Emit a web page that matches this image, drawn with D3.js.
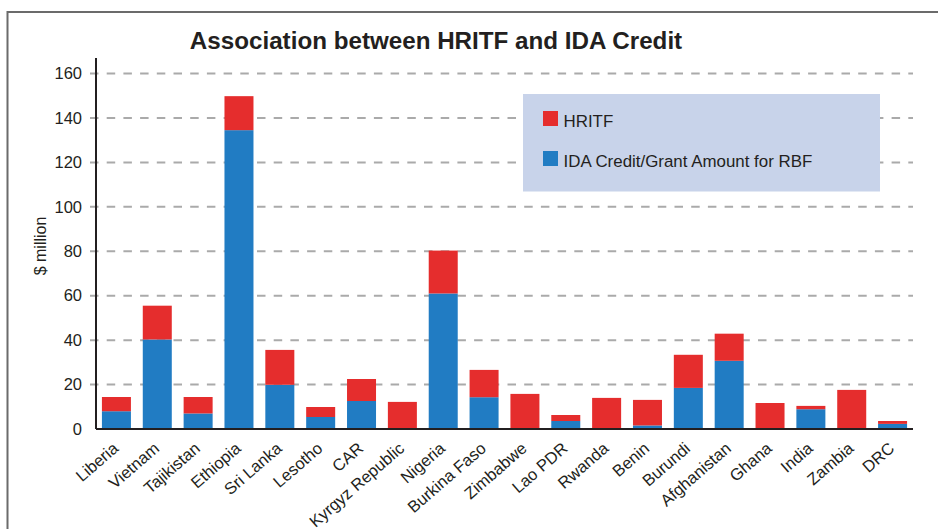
<!DOCTYPE html>
<html><head><meta charset="utf-8">
<script src="https://cdn.jsdelivr.net/npm/d3@7"></script>
<style>body{margin:0;background:#fff;}svg{display:block;font-family:"Liberation Sans",Arial,sans-serif;}</style>
</head><body>
<svg id="chart" width="938" height="529"></svg>
<script>
const categories = ["Liberia","Vietnam","Tajikistan","Ethiopia","Sri Lanka","Lesotho","CAR","Kyrgyz Republic","Nigeria","Burkina Faso","Zimbabwe","Lao PDR","Rwanda","Benin","Burundi","Afghanistan","Ghana","India","Zambia","DRC"];
const idaValues   = [8, 40.3, 7, 134.5, 19.9, 5.4, 12.6, 0, 61, 14.3, 0, 3.6, 0, 1.6, 18.5, 30.7, 0, 8.9, 0, 2.3];
const hritfValues = [6.4, 15.2, 7.4, 15.3, 15.7, 4.5, 9.9, 12.2, 19.3, 12.3, 15.8, 2.7, 14.0, 11.5, 14.9, 12.2, 11.7, 1.5, 17.6, 1.3];
const yTicks = [0,20,40,60,80,100,120,140,160];
const seriesNames = ["HRITF","IDA Credit/Grant Amount for RBF"];
const seriesColors = ["#e52d2d","#217cc3"];

const svg = d3.select("#chart");
const mLeft = 96, mRight = 913, mTop = 73.5, mBottom = 429;
const FS = 16.5;

// frame
svg.append("path").attr("d","M7.5,529 V12 H938").attr("fill","none").attr("stroke","#6b6b6b").attr("stroke-width",2);

const x = d3.scaleBand().domain(categories).range([mLeft,mRight]).paddingInner(0.29).paddingOuter(0.145);
const y = d3.scaleLinear().domain([0,160]).range([mBottom,mTop]);

// gridlines
svg.append("g").selectAll("line").data(yTicks.filter(d=>d>0)).join("line")
  .attr("x1",90).attr("x2",mRight).attr("y1",d=>y(d)).attr("y2",d=>y(d))
  .attr("stroke","#aaaaaa").attr("stroke-width",2).attr("stroke-dasharray","8.5,8.2");

// legend box
const lg = svg.append("g");
lg.append("rect").attr("x",523).attr("y",94).attr("width",357).attr("height",97.5).attr("fill","#c8d3ea");
seriesNames.forEach((n,i)=>{
  lg.append("rect").attr("x",543).attr("y",111+i*40).attr("width",15).attr("height",15).attr("fill",seriesColors[i]);
  lg.append("text").attr("x",563.5).attr("y",126.5+i*40).attr("font-size",16.9).attr("fill","#231f20").text(n);
});

// stacked bars
const data = categories.map((c,i)=>({cat:c, ida:idaValues[i], hritf:hritfValues[i]}));
const stack = d3.stack().keys(["ida","hritf"])(data);
const colorMap = {ida:seriesColors[1], hritf:seriesColors[0]};
svg.append("g").selectAll("g").data(stack).join("g").attr("fill",d=>colorMap[d.key])
  .selectAll("rect").data(d=>d).join("rect")
  .attr("x",d=>x(d.data.cat)).attr("width",x.bandwidth())
  .attr("y",d=>y(d[1])).attr("height",d=>y(d[0])-y(d[1]));

// y axis
const yAxis = svg.append("g").attr("transform",`translate(${mLeft},0)`)
  .call(d3.axisLeft(y).tickValues(yTicks).tickSize(0).tickPadding(14));
yAxis.select(".domain").attr("stroke","#231f20").attr("stroke-width",2).attr("d",`M0,58V${mBottom}`);
yAxis.selectAll("text").attr("font-size",FS).attr("fill","#231f20").attr("font-family","Liberation Sans, Arial, sans-serif");

// x axis
const xAxis = svg.append("g").attr("transform",`translate(0,${mBottom})`)
  .call(d3.axisBottom(x).tickSize(0).tickPadding(0));
xAxis.select(".domain").attr("stroke","#231f20").attr("stroke-width",2).attr("d",`M${mLeft},0H${mRight}`);
xAxis.selectAll("text").attr("font-size",FS).attr("fill","#231f20").attr("font-family","Liberation Sans, Arial, sans-serif")
  .attr("text-anchor","end").attr("dy",0).attr("y",0)
  .attr("transform","translate(3,21) rotate(-41)");

// title
svg.append("text").attr("x",436).attr("y",48.5).attr("text-anchor","middle")
  .attr("font-size",24.2).attr("font-weight","bold").attr("fill","#231f20").text("Association between HRITF and IDA Credit");

// y label
svg.append("text").attr("transform","translate(46,246) rotate(-90)").attr("text-anchor","middle")
  .attr("font-size",16).attr("fill","#231f20").text("$ million");
</script>
</body></html>
